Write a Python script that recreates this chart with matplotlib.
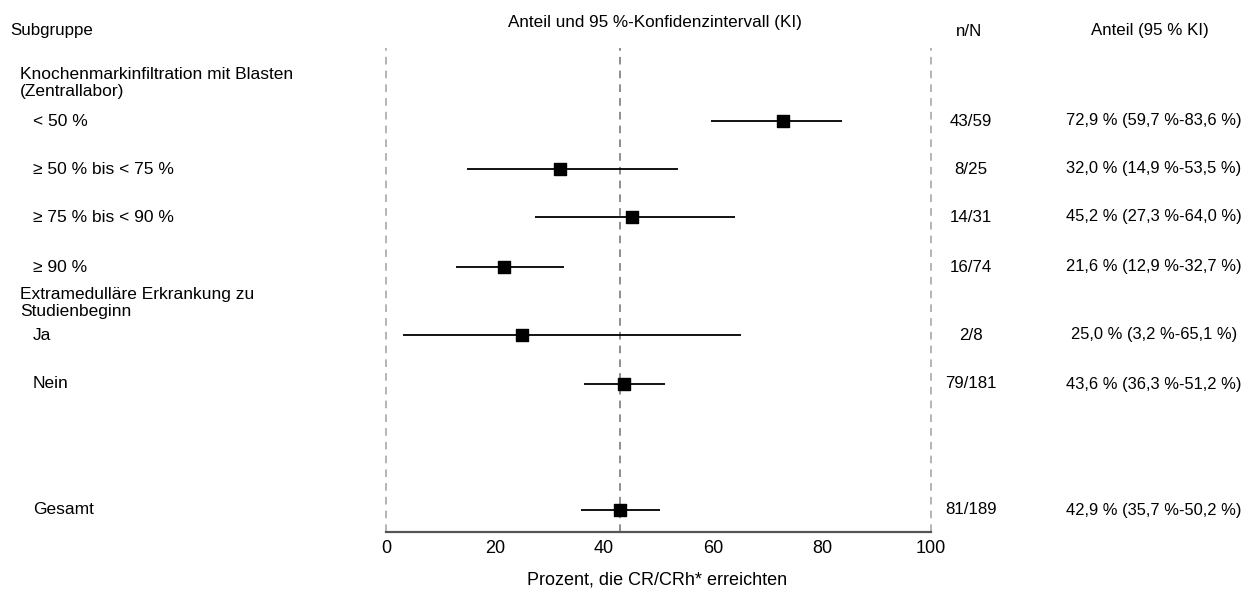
import matplotlib
matplotlib.use("Agg")
import matplotlib.pyplot as plt
import matplotlib.transforms as mtransforms

plt.rcParams['font.family'] = ['Liberation Sans', 'DejaVu Sans']

# ---- data ----
subgroups = ["< 50 %", "≥ 50 % bis < 75 %", "≥ 75 % bis < 90 %", "≥ 90 %",
             "Ja", "Nein", "Gesamt"]
estimates = [72.9, 32.0, 45.2, 21.6, 25.0, 43.6, 42.9]
ci_low = [59.7, 14.9, 27.3, 12.9, 3.2, 36.3, 35.7]
ci_high = [83.6, 53.5, 64.0, 32.7, 65.1, 51.2, 50.2]
n_over_N = ["43/59", "8/25", "14/31", "16/74", "2/8", "79/181", "81/189"]
share_text = ["72,9 % (59,7 %-83,6 %)", "32,0 % (14,9 %-53,5 %)",
              "45,2 % (27,3 %-64,0 %)", "21,6 % (12,9 %-32,7 %)",
              "25,0 % (3,2 %-65,1 %)", "43,6 % (36,3 %-51,2 %)",
              "42,9 % (35,7 %-50,2 %)"]
group_headers = ["Knochenmarkinfiltration mit Blasten\n(Zentrallabor)",
                 "Extramedulläre Erkrankung zu\nStudienbeginn"]
overall = 42.9
x_ticks = [0, 20, 40, 60, 80, 100]

# ---- layout (pixel rows of the 601-px tall figure) ----
row_y = [121, 169, 217, 267, 335, 384, 510]
header_y = [83, 303]
SPINE = 532
TOP = 48

W, H = 1250, 601
fig = plt.figure(figsize=(W / 100, H / 100), dpi=100)
ax = fig.add_axes([386 / W, 1 - SPINE / H, 545 / W, (SPINE - TOP) / H])
ax.set_xlim(0, 100)
ax.set_ylim(SPINE, TOP)

for s in ["top", "right", "left"]:
    ax.spines[s].set_visible(False)
ax.spines["bottom"].set_color("#555555")
ax.spines["bottom"].set_linewidth(1.6)
ax.set_yticks([])
ax.set_xticks(x_ticks)
ax.set_xticklabels([str(t) for t in x_ticks], fontsize=13)
ax.tick_params(axis="x", length=0, pad=6)

for xv in [0, overall, 100]:
    ax.axvline(xv, color="#a0a0a0" if xv != overall else "#707070",
               lw=1.1, ls=(0, (5, 4)), clip_on=False, zorder=1)

for y, e, lo, hi in zip(row_y, estimates, ci_low, ci_high):
    ax.hlines(y, lo, hi, color="black", lw=1.3, zorder=3)
ax.scatter(estimates, row_y, marker="s", s=65, color="black", zorder=4)

fs = 12.2
fig.text(657 / W, 1 - 580 / H, "Prozent, die CR/CRh* erreichten",
         fontsize=13, ha="center", va="center")

tr = mtransforms.blended_transform_factory(fig.transFigure, ax.transData)

# headers
fig.text(10 / W, 1 - 31 / H, "Subgruppe", fontsize=fs, ha="left", va="center")
fig.text(655 / W, 1 - 23 / H, "Anteil und 95 %-Konfidenzintervall (KI)",
         fontsize=12.3, ha="center", va="center")
fig.text(969 / W, 1 - 31 / H, "n/N", fontsize=fs, ha="center", va="center")
fig.text(1150 / W, 1 - 31 / H, "Anteil (95 % KI)", fontsize=fs,
         ha="center", va="center")

for gy, gh in zip(header_y, group_headers):
    ax.text(20 / W, gy, gh, transform=tr, fontsize=12.5, ha="left",
            va="center", linespacing=1.15)

for y, lab, nn, st in zip(row_y, subgroups, n_over_N, share_text):
    ax.text(33 / W, y, lab, transform=tr, fontsize=12.5, ha="left", va="center")
    ax.text(971 / W, y, nn, transform=tr, fontsize=fs, ha="center", va="center")
    ax.text(1154 / W, y, st, transform=tr, fontsize=11.9, ha="center", va="center")

fig.savefig("out.png", dpi=100, facecolor="white")
